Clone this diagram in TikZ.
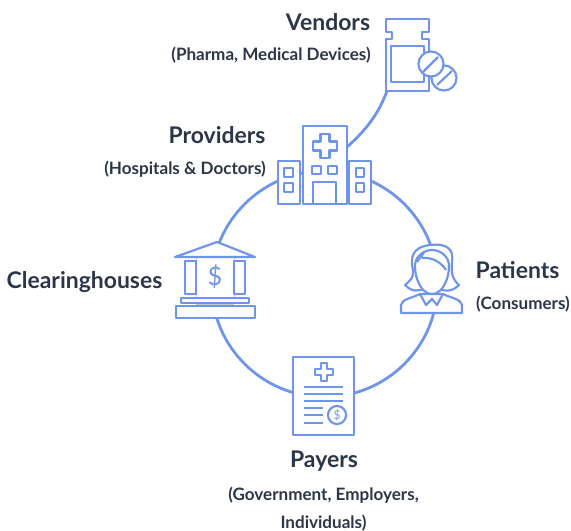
\documentclass[tikz,border=0pt]{standalone}
\usepackage{fontspec}
\setmainfont{Lato}
\usepackage{xcolor}
\definecolor{ink}{HTML}{2B3648}
\definecolor{iconblue}{HTML}{6F95EA}
\definecolor{seam}{HTML}{C4C9D2}
\tikzset{
	link/.style={color=iconblue,line width=2.1pt},
	icon/.style={color=iconblue,line width=1.6pt,fill=white,line join=round},
	stroke/.style={color=iconblue,line width=1.6pt,line join=round},
	seamline/.style={color=seam,line width=0.4pt},
	heading/.style={color=ink,font=\fontsize{17.2}{20}\selectfont\bfseries,inner sep=0pt},
	detail/.style={color=ink,font=\fontsize{12.8}{15}\selectfont\bfseries,inner sep=0pt},
	dollar/.style={color=iconblue,inner sep=0pt}
}
\begin{document}
\begin{tikzpicture}[x=0.75pt,y=0.75pt,yscale=-1,xscale=1]
	\useasboundingbox (0,0) rectangle (571,531);
	% ring and the line up to the vendors
	\node [circle,link,draw,minimum size=169.5pt,inner sep=0pt] (ring) at (324.5,284) {};
	\coordinate (bottlefoot) at (387,91);
	\coordinate (hospitalside) at (346,148);
	\draw [link] (bottlefoot) .. controls (378,115) and (366,130) .. (hospitalside);
	% vendors
	\draw [icon] (386,19) -- (429,19) -- (429,32) -- (422,32) -- (422,39) -- (429,39) -- (429,91) -- (386,91) -- (386,39) -- (392,39) -- (392,32) -- (386,32) -- cycle;
	\draw [stroke] (391,46) rectangle (424,82);
	\draw [icon] (444,78) circle [radius=9.4pt];
	\draw [stroke] (437,85) -- (452,71);
	\draw [icon] (431,64) circle [radius=9.4pt];
	\draw [stroke] (423,72) -- (438,57);
	% providers
	\draw [seamline] (298,164) -- (305,164) (298,186) -- (305,186) (345,164) -- (351,164) (345,186) -- (351,186);
	\draw [icon] (303,126) rectangle (347,204);
	\draw [stroke] (320.5,134) -- (329.5,134) -- (329.5,141.5) -- (337,141.5) -- (337,150.5) -- (329.5,150.5) -- (329.5,158) -- (320.5,158) -- (320.5,150.5) -- (313,150.5) -- (313,141.5) -- (320.5,141.5) -- cycle;
	\draw [stroke] (312,166) rectangle (321,174) (328,166) rectangle (337,174) (313,182) rectangle (336,204);
	\draw [icon] (278,161) rectangle (300,204);
	\draw [stroke] (284,168) rectangle (293,177) (284,183) rectangle (293,192);
	\draw [icon] (349,161) rectangle (371,204);
	\draw [stroke] (356,168) rectangle (364,177) (356,183) rectangle (364,192);
	% clearinghouses
	\fill [white] (185,257) rectangle (245,318);
	\draw [seamline] (196,258) -- (196,298) (234,258) -- (234,298) (196,304) -- (234,304);
	\draw [icon] (175,257) -- (217,242) -- (255,257) -- cycle;
	\draw [icon] (185,261) rectangle (196,294) (234,261) rectangle (245,294);
	\draw [icon] (181,298) rectangle (249,303);
	\draw [icon] (176,306) rectangle (255,318);
	\node [dollar,font=\fontsize{19}{20}\selectfont] (bankdollar) at (215,277) {\$};
	% patients
	\draw [icon] (405,285) .. controls (411,280) and (414,277) .. (413,270) .. controls (410,258) and (412,247) .. (430,245) .. controls (448,243) and (454,250) .. (452,262) .. controls (451,272) and (452,279) .. (459,285) .. controls (455,289) and (450,292) .. (443,290) -- (420,290) .. controls (414,292) and (409,289) .. (405,285) -- cycle;
	\draw [icon] (401,313) -- (401,305) .. controls (402,299) and (412,298) .. (420,294) -- (443,294) .. controls (451,298) and (461,299) .. (462,305) -- (462,313) -- cycle;
	\draw [icon] (415,266) .. controls (415,280) and (422,294) .. (432,294) .. controls (442,294) and (449,280) .. (449,266) .. controls (449,256) and (440,250) .. (432,250) .. controls (424,250) and (415,256) .. (415,266) -- cycle;
	\draw [stroke] (417,262) .. controls (419,258) and (422,257) .. (424,252) (422,258) .. controls (432,257) and (441,262) .. (446,270);
	\draw [stroke] (420,294) -- (426,305) -- (432,299) -- (437,305) -- (443,294);
	% payers
	\draw [icon] (293,357) rectangle (354,435);
	\draw [stroke] (321,363) -- (327,363) -- (327,369) -- (333,369) -- (333,375) -- (327,375) -- (327,381) -- (321,381) -- (321,375) -- (315,375) -- (315,369) -- (321,369) -- cycle;
	\draw [stroke] (304,387) -- (343,387) (304,394) -- (343,394) (304,401) -- (343,401) (304,408) -- (323,408) (304,415) -- (323,415) (304,423) -- (323,423);
	\draw [stroke] (337,415) circle [radius=6.8pt];
	\node [dollar,font=\fontsize{9}{10}\selectfont] (claimdollar) at (337,415) {\$};
	% labels
	\node [heading] (vendors) at (328,22) {Vendors};
	\node [detail] (vendorsnote) at (271,55.5) {(Pharma, Medical Devices)};
	\node [heading] (providers) at (217,135) {Providers};
	\node [detail] (providersnote) at (185,169.5) {(Hospitals \& Doctors)};
	\node [heading] (clearinghouses) at (84.5,282.5) {Clearinghouses};
	\node [heading] (patients) at (517.5,270.5) {Patients};
	\node [detail] (patientsnote) at (523,304.5) {(Consumers)};
	\node [heading] (payers) at (324,461.5) {Payers};
	\node [detail] (payersnote) at (323.5,495.5) {(Government, Employers,};
	\node [detail] (payersnotetwo) at (323.5,523.5) {Individuals)};
\end{tikzpicture}
\end{document}
